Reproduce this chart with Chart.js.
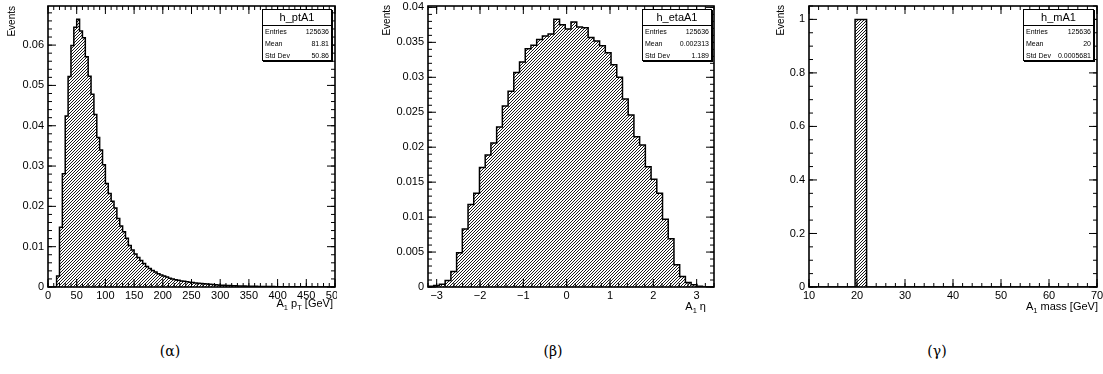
<!DOCTYPE html>
<html><head><meta charset="utf-8">
<script src="https://cdn.jsdelivr.net/npm/chart.js@4.4.0/dist/chart.umd.min.js"></script>
<style>
html,body{margin:0;padding:0;background:#fff;}
body{width:1103px;height:374px;overflow:hidden;position:relative;font-family:"Liberation Sans",Arial,sans-serif;color:#000;-webkit-font-smoothing:antialiased;}
.cv{position:absolute;top:0;height:320px;}
.stat{position:absolute;top:9px;height:52px;border:1px solid #000;box-shadow:1px 1px 0 #000;background:#fff;box-sizing:border-box;}
.stat .t{height:15px;line-height:15px;text-align:center;font-size:11px;border-bottom:1px solid #000;}
.stat .r{height:12px;line-height:12px;font-size:7px;display:flex;justify-content:space-between;padding:0 2px;}
.yt{position:absolute;width:40px;height:12px;line-height:12px;font-size:10px;text-align:right;transform-origin:0 0;transform:rotate(-90deg) translate(-40px,0);white-space:nowrap;}
.xt{position:absolute;font-size:11px;line-height:12px;white-space:nowrap;text-align:right;}
.xt sub{font-size:7.5px;vertical-align:-3px;line-height:0;}
.cap{position:absolute;top:343px;width:40px;margin-left:-20px;text-align:center;font-family:"DejaVu Serif","Liberation Serif",serif;font-size:14px;color:#000;}
</style></head>
<body>
<canvas id="c1" class="cv" style="left:0;width:337px;" width="337" height="320"></canvas>
<canvas id="c2" class="cv" style="left:370px;width:350px;" width="350" height="320"></canvas>
<canvas id="c3" class="cv" style="left:740px;width:363px;" width="363" height="320"></canvas>

<div class="stat" style="left:262px;width:70px;"><div class="t">h_ptA1</div>
<div class="r"><span>Entries</span><span>125636</span></div>
<div class="r"><span>Mean</span><span>81.81</span></div>
<div class="r"><span>Std Dev</span><span>50.86</span></div></div>
<div class="stat" style="left:642px;width:70px;"><div class="t">h_etaA1</div>
<div class="r"><span>Entries</span><span>125636</span></div>
<div class="r"><span>Mean</span><span>0.002313</span></div>
<div class="r"><span>Std Dev</span><span>1.189</span></div></div>
<div class="stat" style="left:1023px;width:71px;"><div class="t">h_mA1</div>
<div class="r"><span>Entries</span><span>125636</span></div>
<div class="r"><span>Mean</span><span>20</span></div>
<div class="r"><span>Std Dev</span><span>0.0005681</span></div></div>

<div class="yt" style="left:6px;top:6px;">Events</div>
<div class="yt" style="left:381px;top:5px;">Events</div>
<div class="yt" style="left:775px;top:5px;">Events</div>

<div class="xt" style="right:770px;top:297px;">A<sub>1</sub> p<sub>T</sub> [GeV]</div>
<div class="xt" style="right:397px;top:300px;">A<sub>1</sub> η</div>
<div class="xt" style="right:5px;top:300px;">A<sub>1</sub> mass [GeV]</div>

<div class="cap" style="left:170px;">(α)</div>
<div class="cap" style="left:553px;">(β)</div>
<div class="cap" style="left:937px;">(γ)</div>

<script>
// ---------------- data ----------------
const ptRange = [0, 500];
const ptValues = [0,0,0,0.0027,0.0148,0.0281,0.0424,0.0522,0.0599,0.0644,
 0.0664,0.0635,0.0618,0.0571,0.0523,0.0478,0.0428,0.0371,0.0340,0.0303,
 0.0257,0.0232,0.0213,0.0196,0.0170,0.0151,0.0137,0.0121,0.0103,0.0092,
 0.0082,0.0073,0.0066,0.0058,0.0051,0.0046,0.0041,0.0037,0.0033,0.0030,
 0.0027,0.0025,0.0022,0.0020,0.0018,0.0017,0.0015,0.0014,0.0013,0.0012,
 0.0011,0.0010,0.0009,0.00085,0.0008,0.00072,0.00066,0.0006,0.00055,0.0005,
 0.00046,0.00042,0.00039,0.00035,0.00032,0.0003,0.00027,0.00025,0.00023,0.00021,
 0.0002,0.00018,0.00016,0.00015,0.00014,0.00013,0.00012,0.00011,0.0001,0.00009,
 0.00009,0.00008,0.00008,0.00007,0.00007,0.00006,0.00006,0.00005,0.00005,0.00005,
 0.00004,0.00004,0.00004,0.00003,0.00003,0.00003,0.00003,0.00002,0.00002,0.00002];
const ptXTicks = [0,50,100,150,200,250,300,350,400,450,500];
const ptYTicks = [0,0.01,0.02,0.03,0.04,0.05,0.06];
const ptYMax = 0.0697;

const etaRange = [-3.2, 3.4];
const etaValues = [0.0001,0.0002,0.0004,0.00094,0.0022,0.0049,0.0083,0.0118,0.0134,0.0171,
 0.0189,0.0206,0.0229,0.0259,0.0280,0.0307,0.0322,0.0341,0.0346,0.0354,
 0.0359,0.0362,0.0383,0.0375,0.0369,0.0379,0.0372,0.0371,0.0357,0.0352,
 0.0345,0.0335,0.0318,0.0300,0.0269,0.0246,0.0215,0.0203,0.0172,0.0154,
 0.0134,0.0097,0.0069,0.0032,0.0015,0.00066,0.00033,0.0001,0,0];
const etaXTicks = [-3,-2,-1,0,1,2,3];
const etaYTicks = [0,0.005,0.01,0.015,0.02,0.025,0.03,0.035,0.04];
const etaYMax = 0.0402;

const mRange = [10, 70];
const mValues = [0,0,0,0,1,0,0,0,0,0,0,0,0,0,0,0,0,0,0,0,0,0,0,0,0];
const mXTicks = [10,20,30,40,50,60,70];
const mYTicks = [0,0.2,0.4,0.6,0.8,1];
const mYMax = 1.05;

// ---------------- helpers ----------------
function histPoints(range, vals) {
  const w = (range[1] - range[0]) / vals.length;
  const pts = [{x: range[0], y: 0}];
  vals.forEach((v, i) => pts.push({x: range[0] + i * w, y: v}));
  pts.push({x: range[1], y: 0});
  return pts;
}
function hatch() {
  const c = document.createElement('canvas');
  c.width = 3; c.height = 3;
  const g = c.getContext('2d');
  g.fillStyle = '#fff'; g.fillRect(0, 0, 3, 3);
  g.fillStyle = '#1a1a1a';
  g.fillRect(0, 2, 1, 1); g.fillRect(1, 1, 1, 1); g.fillRect(2, 0, 1, 1);
  return c.getContext('2d').createPattern(c, 'repeat');
}
function fmt(v) {
  const r = Math.round(v * 1e6) / 1e6;
  return (r < 0 ? '\u2212' : '') + String(Math.abs(r));
}
function minorList(min, max, step) {
  const out = [];
  const start = Math.ceil(min / step - 1e-9);
  for (let k = start; k * step <= max + 1e-9; k++) out.push(k * step);
  return out;
}
const frameTicks = {
  id: 'frameTicks',
  afterDraw(chart, args, o) {
    const {ctx, chartArea: a, scales: {x, y}} = chart;
    ctx.save();
    ctx.strokeStyle = '#000';
    ctx.lineWidth = 1;
    ctx.beginPath();
    const vx = (vals, len) => vals.forEach(v => {
      const px = x.getPixelForValue(v);
      if (px < a.left - 0.5 || px > a.right + 0.5) return;
      ctx.moveTo(px, a.bottom); ctx.lineTo(px, a.bottom - len);
      ctx.moveTo(px, a.top); ctx.lineTo(px, a.top + len);
    });
    const vy = (vals, len) => vals.forEach(v => {
      const py = y.getPixelForValue(v);
      if (py < a.top - 0.5 || py > a.bottom + 0.5) return;
      ctx.moveTo(a.left, py); ctx.lineTo(a.left + len, py);
      ctx.moveTo(a.right, py); ctx.lineTo(a.right - len, py);
    });
    vx(o.xMajor, 8); vx(minorList(x.min, x.max, o.xMinor), 4);
    vy(o.yMajor, 8); vy(minorList(y.min, y.max, o.yMinor), 4);
    ctx.stroke();
    ctx.lineWidth = 1.6;
    ctx.strokeRect(a.left, a.top, a.right - a.left, a.bottom - a.top);
    ctx.restore();
  }
};
Chart.register(frameTicks);

function makeHist(id, range, vals, xTicks, yTicks, yMax, xMinor, yMinor, yWidth, rightPad) {
  new Chart(document.getElementById(id), {
    type: 'line',
    data: { datasets: [{
      data: histPoints(range, vals),
      stepped: 'before',
      borderColor: '#000', borderWidth: 1.5,
      backgroundColor: hatch(), fill: 'origin',
      pointRadius: 0, tension: 0
    }]},
    options: {
      responsive: false, animation: false, events: [],
      layout: { padding: { top: 6, right: rightPad, left: 0, bottom: 0 } },
      plugins: { legend: { display: false }, tooltip: { enabled: false },
        frameTicks: { xMajor: xTicks, xMinor: xMinor, yMajor: yTicks, yMinor: yMinor } },
      scales: {
        x: { type: 'linear', min: range[0], max: range[1],
          grid: { display: false, drawTicks: false }, border: { display: false },
          afterBuildTicks: s => { s.ticks = xTicks.map(v => ({ value: v })); },
          afterFit: s => { s.height = 33; s.paddingLeft = 0; s.paddingRight = 0; },
          ticks: { autoSkip: false, maxRotation: 0, padding: 2, color: '#000',
            font: { family: 'Liberation Sans', size: 11 }, callback: v => fmt(v) } },
        y: { type: 'linear', min: 0, max: yMax,
          grid: { display: false, drawTicks: false }, border: { display: false },
          afterBuildTicks: s => { s.ticks = yTicks.map(v => ({ value: v })); },
          afterFit: s => { s.width = yWidth; s.paddingTop = 0; s.paddingBottom = 0; },
          ticks: { autoSkip: false, padding: 4, color: '#000',
            font: { family: 'Liberation Sans', size: 11 }, callback: v => fmt(v) } }
      }
    }
  });
}
makeHist('c1', ptRange, ptValues, ptXTicks, ptYTicks, ptYMax, 10, 0.002, 48, 2);
makeHist('c2', etaRange, etaValues, etaXTicks, etaYTicks, etaYMax, 0.2, 0.001, 58, 6);
makeHist('c3', mRange, mValues, mXTicks, mYTicks, mYMax, 2, 0.05, 69, 6);
</script>
</body></html>
